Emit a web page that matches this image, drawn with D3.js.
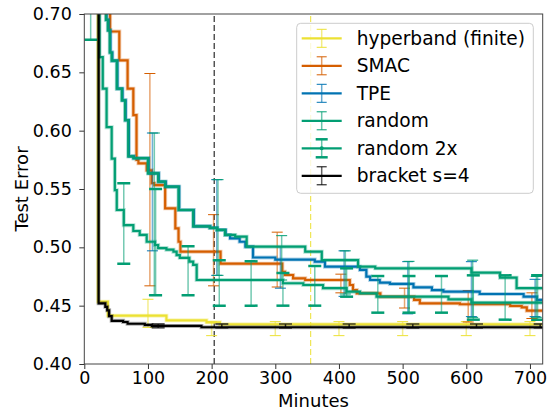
<!DOCTYPE html>
<html>
<head>
<meta charset="utf-8">
<script src="https://cdn.jsdelivr.net/npm/d3@7"></script>
<style>
  body { margin: 0; background: #fff; }
  text { font-family: "DejaVu Sans", sans-serif; }
</style>
</head>
<body>
<div id="chart"></div>
<script>
// chart size
const W = 548, H = 416;
const MARGIN = {top: 14, right: 5.3, bottom: 52, left: 84.3};

// axis ticks
const minuteTicks = [0, 100, 200, 300, 400, 500, 600, 700];
const errorTicks = [0.40, 0.45, 0.50, 0.55, 0.60, 0.65, 0.70];

// series names / colours
const seriesNames = ["hyperband (finite)", "SMAC", "TPE", "random", "random 2x", "bracket s=4"];
const seriesColors = ["#ece133", "#d55e00", "#0173b2", "#029e73", "#029e73", "#000000"];

// step curves: [minutes, test error]
const hyperband = [[0, 0.9], [21.5, 0.4534], [37, 0.4414], [129, 0.4374], [192, 0.4357], [213, 0.434], [720, 0.434]];
const smac = [[0, 0.9], [40.5, 0.685], [55, 0.6603], [68, 0.636], [77, 0.6134], [82, 0.575], [85, 0.572], [98, 0.566],
  [106, 0.555], [110, 0.5534], [127, 0.5334], [143, 0.5163], [148, 0.5048], [151, 0.4963], [214, 0.486],
  [311, 0.479], [315, 0.4763], [328, 0.4734], [347, 0.472], [417, 0.4677], [422, 0.4634], [428, 0.4606],
  [465, 0.4577], [518, 0.4549], [527, 0.452], [590, 0.4512], [669, 0.4497], [687, 0.4486], [695, 0.4457], [720, 0.4457]];
const tpe = [[0, 0.9], [35, 0.695], [38, 0.686], [41, 0.667], [44, 0.66], [52, 0.636], [60, 0.626], [65, 0.609],
  [70, 0.578], [78, 0.5764], [101, 0.5634], [117, 0.5563], [128, 0.552], [149, 0.532], [172, 0.518],
  [198, 0.5166], [209, 0.5149], [222, 0.5106], [229, 0.5077], [244, 0.5048], [253, 0.5006], [265, 0.4913],
  [300, 0.4895], [362, 0.4877], [378, 0.4834], [433, 0.4806], [443, 0.4749], [449, 0.472], [464, 0.4697],
  [480, 0.4686], [517, 0.4657], [546, 0.4634], [564, 0.462], [621, 0.46], [690, 0.4577], [711, 0.4549], [720, 0.4549]];
const random = [[0, 0.9], [34, 0.695], [37, 0.686], [40, 0.667], [43, 0.66], [51, 0.636], [59, 0.626], [64, 0.609],
  [69, 0.578], [77, 0.5764], [100, 0.5634], [116, 0.5563], [127, 0.552], [148, 0.532], [171, 0.518],
  [197, 0.5166], [208, 0.5149], [221, 0.5106], [237, 0.5091], [255, 0.5006], [347, 0.4963], [373, 0.4891],
  [430, 0.4834], [457, 0.482], [608, 0.4783], [653, 0.474], [679, 0.465], [720, 0.465]];
const random2x = [[0, 0.9], [24, 0.663], [29, 0.636], [35, 0.603], [43, 0.576], [48, 0.549], [51, 0.532],
  [62, 0.519], [77, 0.514], [87, 0.5106], [98, 0.5048], [111, 0.502], [116, 0.4994], [129, 0.498],
  [140, 0.4963], [145, 0.4934], [150, 0.491], [165, 0.4877], [171, 0.485], [176.5, 0.472], [312, 0.4692],
  [344, 0.4677], [375, 0.465], [412, 0.462], [433, 0.4606], [459, 0.4577], [572, 0.4554], [608, 0.4526], [720, 0.4526]];
const bracket = [[0, 0.9], [22.5, 0.452], [33, 0.449], [36, 0.446], [39, 0.441], [43, 0.437], [61, 0.436],
  [68, 0.4345], [95, 0.4335], [106, 0.4326], [184, 0.4315], [720, 0.4315]];

// error bars: [minutes, low, high]
const hyperbandErr = [[100, 0.4314, 0.4555], [200, 0.4243, 0.4363], [300, 0.4243, 0.4363], [400, 0.4243, 0.4363],
  [500, 0.4243, 0.4363], [600, 0.4243, 0.4363], [700, 0.4243, 0.4363]];
const smacErr = [[103, 0.467, 0.649], [203, 0.467, 0.528], [303, 0.466, 0.513], [403, 0.461, 0.477],
  [503, 0.448, 0.465], [603, 0.436, 0.463], [703, 0.439, 0.461]];
const tpeErr = [[107, 0.497, 0.598], [208, 0.476, 0.558], [308, 0.465, 0.5006], [408, 0.458, 0.497],
  [508, 0.443, 0.4877], [608, 0.4406, 0.4877], [708, 0.4406, 0.4726]];
const randomErr = [[110, 0.459, 0.598], [210, 0.476, 0.558], [310, 0.472, 0.51], [410, 0.46, 0.497],
  [510, 0.444, 0.488], [610, 0.44, 0.489], [710, 0.44, 0.475]];
const random2xErr = [[10, 0.678, 0.78], [62, 0.486, 0.555], [112, 0.459, 0.55], [163, 0.459, 0.501],
  [212, 0.45, 0.489], [262, 0.45, 0.488], [312, 0.45, 0.478], [362, 0.45, 0.484], [412, 0.4577, 0.482],
  [461, 0.444, 0.4754], [510, 0.444, 0.4754], [561, 0.444, 0.4754], [611, 0.438, 0.476], [661, 0.438, 0.476],
  [712, 0.438, 0.476]];
const bracketErr = [[116, 0.4309, 0.4343], [216, 0.4309, 0.4343], [316, 0.4309, 0.4343], [416, 0.4309, 0.4343],
  [516, 0.4309, 0.4343], [616, 0.4309, 0.4343], [716, 0.4309, 0.4343]];

// vertical reference lines (minutes)
const blackMarker = 204;
const yellowMarker = 355.6;

const curves = [hyperband, smac, tpe, random, random2x, bracket];
const errs = [hyperbandErr, smacErr, tpeErr, randomErr, random2xErr, bracketErr];

const svg = d3.select("#chart").append("svg")
  .attr("width", W).attr("height", H);

const x = d3.scaleLinear().domain([0, 720]).range([MARGIN.left, W - MARGIN.right]);
const y = d3.scaleLinear().domain([0.40, 0.70]).range([H - MARGIN.bottom, MARGIN.top]);

svg.append("clipPath").attr("id", "plotclip")
  .append("rect")
    .attr("x", x(0)).attr("y", y(0.70))
    .attr("width", x(720) - x(0)).attr("height", y(0.40) - y(0.70));

const plot = svg.append("g").attr("clip-path", "url(#plotclip)");

// dashed markers
plot.append("line")
  .attr("x1", x(blackMarker)).attr("x2", x(blackMarker))
  .attr("y1", y(0.40)).attr("y2", y(0.70))
  .attr("stroke", "#000").attr("stroke-width", 1).attr("stroke-dasharray", "6,3");
plot.append("line")
  .attr("x1", x(yellowMarker)).attr("x2", x(yellowMarker))
  .attr("y1", y(0.40)).attr("y2", y(0.70))
  .attr("stroke", "#ece133").attr("stroke-width", 1).attr("stroke-dasharray", "6,3");

const line = d3.line()
  .x(d => x(d[0]))
  .y(d => y(d[1]))
  .curve(d3.curveStepAfter);

curves.forEach((c, i) => {
  const col = seriesColors[i];
  const thick = seriesNames[i] === "random 2x";
  const isBracket = seriesNames[i] === "bracket s=4";
  const g = plot.append("g");

  // error bars
  g.selectAll(".ebar")
    .data(errs[i])
    .join("line")
      .attr("class", "ebar")
      .attr("x1", d => x(d[0])).attr("x2", d => x(d[0]))
      .attr("y1", d => y(d[1])).attr("y2", d => y(d[2]))
      .attr("stroke", col).attr("stroke-width", 1.5)
      .attr("opacity", isBracket ? 0.8 : 0.55);

  const capW = thick ? 6.5 : (isBracket ? 6.5 : 5.5);
  ["lo", "hi"].forEach((k, j) => {
    g.selectAll(".cap" + k)
      .data(errs[i])
      .join("line")
        .attr("class", "cap" + k)
        .attr("x1", d => x(d[0]) - capW).attr("x2", d => x(d[0]) + capW)
        .attr("y1", d => y(d[1 + j])).attr("y2", d => y(d[1 + j]))
        .attr("stroke", isBracket ? "#222" : col)
        .attr("stroke-width", thick ? 2.5 : (isBracket ? 1.3 : 1));
  });

  // line with soft halo
  g.append("path").datum(c)
    .attr("d", line).attr("fill", "none")
    .attr("stroke", col).attr("stroke-width", 4).attr("opacity", 0.3);
  g.append("path").datum(c)
    .attr("d", line).attr("fill", "none")
    .attr("stroke", col).attr("stroke-width", 2.2);
});

// axes
const xAxis = svg.append("g")
  .attr("transform", "translate(0," + y(0.40) + ")")
  .call(d3.axisBottom(x).tickValues(minuteTicks).tickSize(5).tickPadding(3).tickSizeOuter(0));
const yAxis = svg.append("g")
  .attr("transform", "translate(" + x(0) + ",0)")
  .call(d3.axisLeft(y).tickValues(errorTicks).tickFormat(d3.format(".2f")).tickSize(5).tickPadding(7.5).tickSizeOuter(0));

[xAxis, yAxis].forEach(a => {
  a.select(".domain").remove();
  a.selectAll(".tick line").attr("stroke", "#333").attr("stroke-width", 1);
  a.selectAll(".tick text").attr("fill", "#000").style("font-size", "17.5px").style("font-family", "DejaVu Sans");
});

// frame
svg.append("rect")
  .attr("x", x(0)).attr("y", y(0.70))
  .attr("width", x(720) - x(0)).attr("height", y(0.40) - y(0.70))
  .attr("fill", "none").attr("stroke", "#444").attr("stroke-width", 1);

svg.append("text")
  .attr("x", (x(0) + x(720)) / 2).attr("y", 407)
  .attr("text-anchor", "middle").style("font-size", "18px")
  .text("Minutes");
svg.append("text")
  .attr("transform", "translate(28," + ((y(0.40) + y(0.70)) / 2) + ") rotate(-90)")
  .attr("text-anchor", "middle").style("font-size", "18px")
  .text("Test Error");

// legend
const legend = svg.append("g").attr("transform", "translate(296.7,23.3)");
legend.append("rect")
  .attr("width", 236.6).attr("height", 170).attr("rx", 4)
  .attr("fill", "#fff").attr("fill-opacity", 0.8)
  .attr("stroke", "#ccc").attr("stroke-width", 1);

seriesNames.forEach((name, i) => {
  const col = seriesColors[i];
  const thick = name === "random 2x";
  const cy = 15 + i * 27.5;
  const row = legend.append("g").attr("transform", "translate(0," + cy + ")");
  row.append("line").attr("x1", 5).attr("x2", 45).attr("y1", 0).attr("y2", 0)
    .attr("stroke", col).attr("stroke-width", 2.2);
  row.append("line").attr("x1", 25).attr("x2", 25).attr("y1", -9).attr("y2", 9)
    .attr("stroke", col).attr("stroke-width", 1.5).attr("opacity", 0.6);
  [-9, 9].forEach(dy => {
    row.append("line").attr("x1", thick ? 19 : 20).attr("x2", thick ? 31 : 30).attr("y1", dy).attr("y2", dy)
      .attr("stroke", col).attr("stroke-width", thick ? 2.5 : 1);
  });
  if (thick) {
    row.append("circle").attr("cx", 25).attr("cy", 0).attr("r", 2).attr("fill", col);
  }
  row.append("text")
    .attr("x", 60).attr("y", 0).attr("dy", "0.35em")
    .style("font-size", "18.6px")
    .text(name);
});
</script>
</body>
</html>
